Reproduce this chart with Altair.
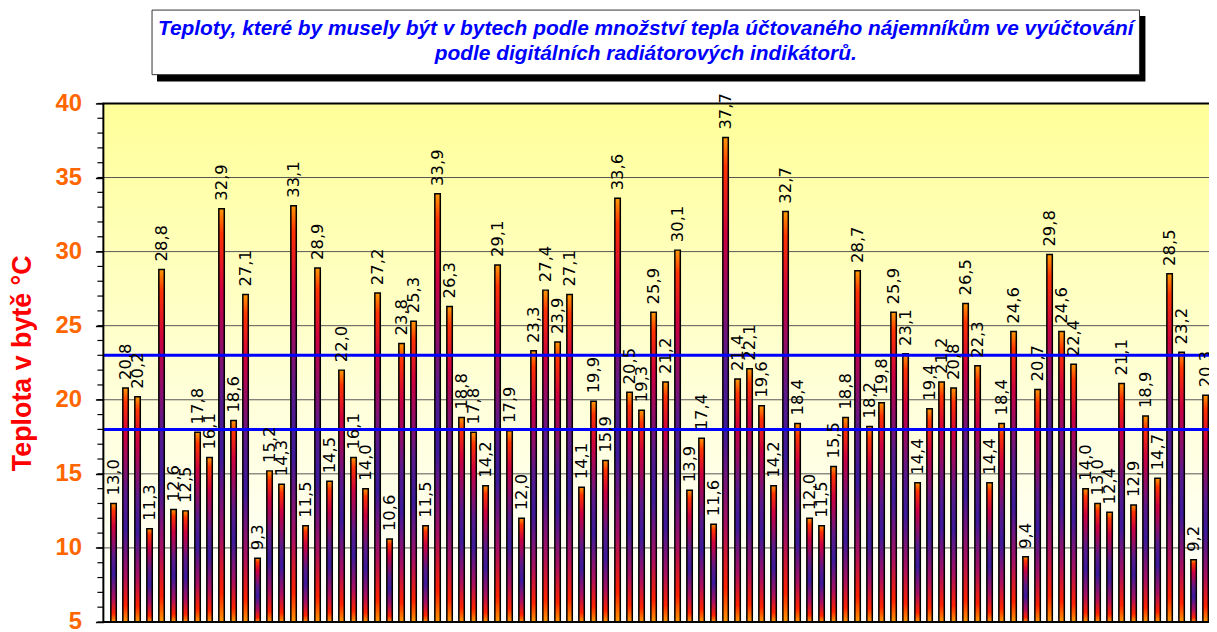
import altair as alt
import pandas as pd

# ---- data ----
values = [13.0, 20.8, 20.2, 11.3, 28.8, 12.6, 12.5, 17.8, 16.1, 32.9,
          18.6, 27.1, 9.3, 15.2, 14.3, 33.1, 11.5, 28.9, 14.5, 22.0,
          16.1, 14.0, 27.2, 10.6, 23.8, 25.3, 11.5, 33.9, 26.3, 18.8,
          17.8, 14.2, 29.1, 17.9, 12.0, 23.3, 27.4, 23.9, 27.1, 14.1,
          19.9, 15.9, 33.6, 20.5, 19.3, 25.9, 21.2, 30.1, 13.9, 17.4,
          11.6, 37.7, 21.4, 22.1, 19.6, 14.2, 32.7, 18.4, 12.0, 11.5,
          15.5, 18.8, 28.7, 18.2, 19.8, 25.9, 23.1, 14.4, 19.4, 21.2,
          20.8, 26.5, 22.3, 14.4, 18.4, 24.6, 9.4, 20.7, 29.8, 24.6,
          22.4, 14.0, 13.0, 12.4, 21.1, 12.9, 18.9, 14.7, 28.5, 23.2,
          9.2, 20.3]
limit_lines = [23.0, 18.0]
y_ticks = [5, 10, 15, 20, 25, 30, 35, 40]
grid_values = [10, 15, 20, 25, 30, 35]
minor_ticks = list(range(5, 41))
title_lines = ["Teploty, které by musely být v bytech podle množství tepla účtovaného nájemníkům ve vyúčtování",
               "podle digitálních radiátorových indikátorů."]
y_title = "Teplota v bytě °C"

W, H = 1113, 522

df = pd.DataFrame({
    "idx": list(range(1, len(values) + 1)),
    "value": values,
    "label": [f"{v:.1f}".replace(".", ",") for v in values],
})
one = pd.DataFrame({"a": [0]})

xscale = alt.Scale(domain=[0.565, 91.87], nice=False, zero=False)
yscale = alt.Scale(domain=[5, 40], nice=False, zero=False)

y_axis = alt.Axis(values=y_ticks, title=y_title, grid=False, domain=False,
                  tickSize=8, tickColor="black", tickWidth=1.5,
                  labelFont="Liberation Sans", labelFontSize=24,
                  labelFontWeight="bold", labelColor="#FF6600",
                  labelPadding=14,
                  titleFont="Liberation Sans", titleFontSize=27,
                  titleFontWeight="bold", titleColor="#FF0000",
                  titleAngle=270, titleAlign="center",
                  titleBaseline="middle", titleX=-81, titleY=261)

bg_grad = alt.Gradient(gradient="linear", x1=0, x2=0, y1=0, y2=1,
                       stops=[alt.GradientStop(color="#FFFF99", offset=0),
                              alt.GradientStop(color="#FFFFD8", offset=0.55),
                              alt.GradientStop(color="#FFFFFF", offset=1)])
bar_grad = alt.Gradient(gradient="linear", x1=0, x2=0, y1=0, y2=1,
                        stops=[alt.GradientStop(color="#FF9900", offset=0),
                               alt.GradientStop(color="#FF3300", offset=0.06),
                               alt.GradientStop(color="#CC0040", offset=0.2),
                               alt.GradientStop(color="#5A1A8C", offset=0.45),
                               alt.GradientStop(color="#3C1A9A", offset=0.6),
                               alt.GradientStop(color="#AA1060", offset=0.8),
                               alt.GradientStop(color="#FF2200", offset=0.93),
                               alt.GradientStop(color="#FF9900", offset=1)])

background = alt.Chart(one).mark_rect(color=bg_grad).encode(
    x=alt.value(0), x2=alt.value(W), y=alt.value(0), y2=alt.value(H))

grid = alt.Chart(pd.DataFrame({"v": grid_values})).mark_rule(
    color="#555555", strokeWidth=1).encode(
    y=alt.Y("v:Q", scale=yscale, axis=y_axis))

minor = alt.Chart(pd.DataFrame({"v": minor_ticks})).mark_rule(
    color="black", strokeWidth=1.2).encode(
    y=alt.Y("v:Q", scale=yscale, axis=y_axis), x=alt.value(-6), x2=alt.value(0))

bars = alt.Chart(df).mark_bar(size=5.5, color=bar_grad, stroke="black",
                              strokeWidth=1.5).encode(
    x=alt.X("idx:Q", scale=xscale, axis=None),
    y=alt.Y("value:Q", scale=yscale, axis=y_axis),
    y2=alt.datum(5))

limits = alt.Chart(pd.DataFrame({"v": limit_lines})).mark_rule(
    color="#0000FF", strokeWidth=3).encode(
    y=alt.Y("v:Q", scale=yscale, axis=y_axis))

labels = alt.Chart(df).mark_text(angle=270, align="left", baseline="middle",
                                 dx=8, font="DejaVu Sans", fontSize=16.5,
                                 color="black").encode(
    x=alt.X("idx:Q", scale=xscale, axis=None),
    y=alt.Y("value:Q", scale=yscale, axis=y_axis),
    text="label:N")

border = alt.Chart(one).mark_rect(filled=False, stroke="black", strokeWidth=2).encode(
    x=alt.value(0), x2=alt.value(W + 4), y=alt.value(0), y2=alt.value(H))

shadow = alt.Chart(one).mark_rect(color="black").encode(
    x=alt.value(54), x2=alt.value(1049), y=alt.value(-88), y2=alt.value(-22))
box = alt.Chart(one).mark_rect(fill="white", stroke="#333333", strokeWidth=1).encode(
    x=alt.value(49), x2=alt.value(1043), y=alt.value(-94), y2=alt.value(-29))
title = alt.Chart(one).mark_text(text=title_lines, font="Liberation Sans",
                                 fontSize=21, fontWeight="bold", fontStyle="italic",
                                 color="#0000FF", align="center", baseline="top",
                                 lineHeight=25).encode(
    x=alt.value(546), y=alt.value(-86))

chart = alt.layer(background, grid, minor, bars, limits, labels, border,
                  shadow, box, title).properties(
    width=W, height=H,
    autosize=alt.AutoSizeParams(type="none"),
    padding={"left": 96, "top": 94, "right": 0, "bottom": 10},
).configure_view(stroke=None).configure(background="white")

chart.save("out.html", embed_options={"renderer": "svg", "actions": False})
